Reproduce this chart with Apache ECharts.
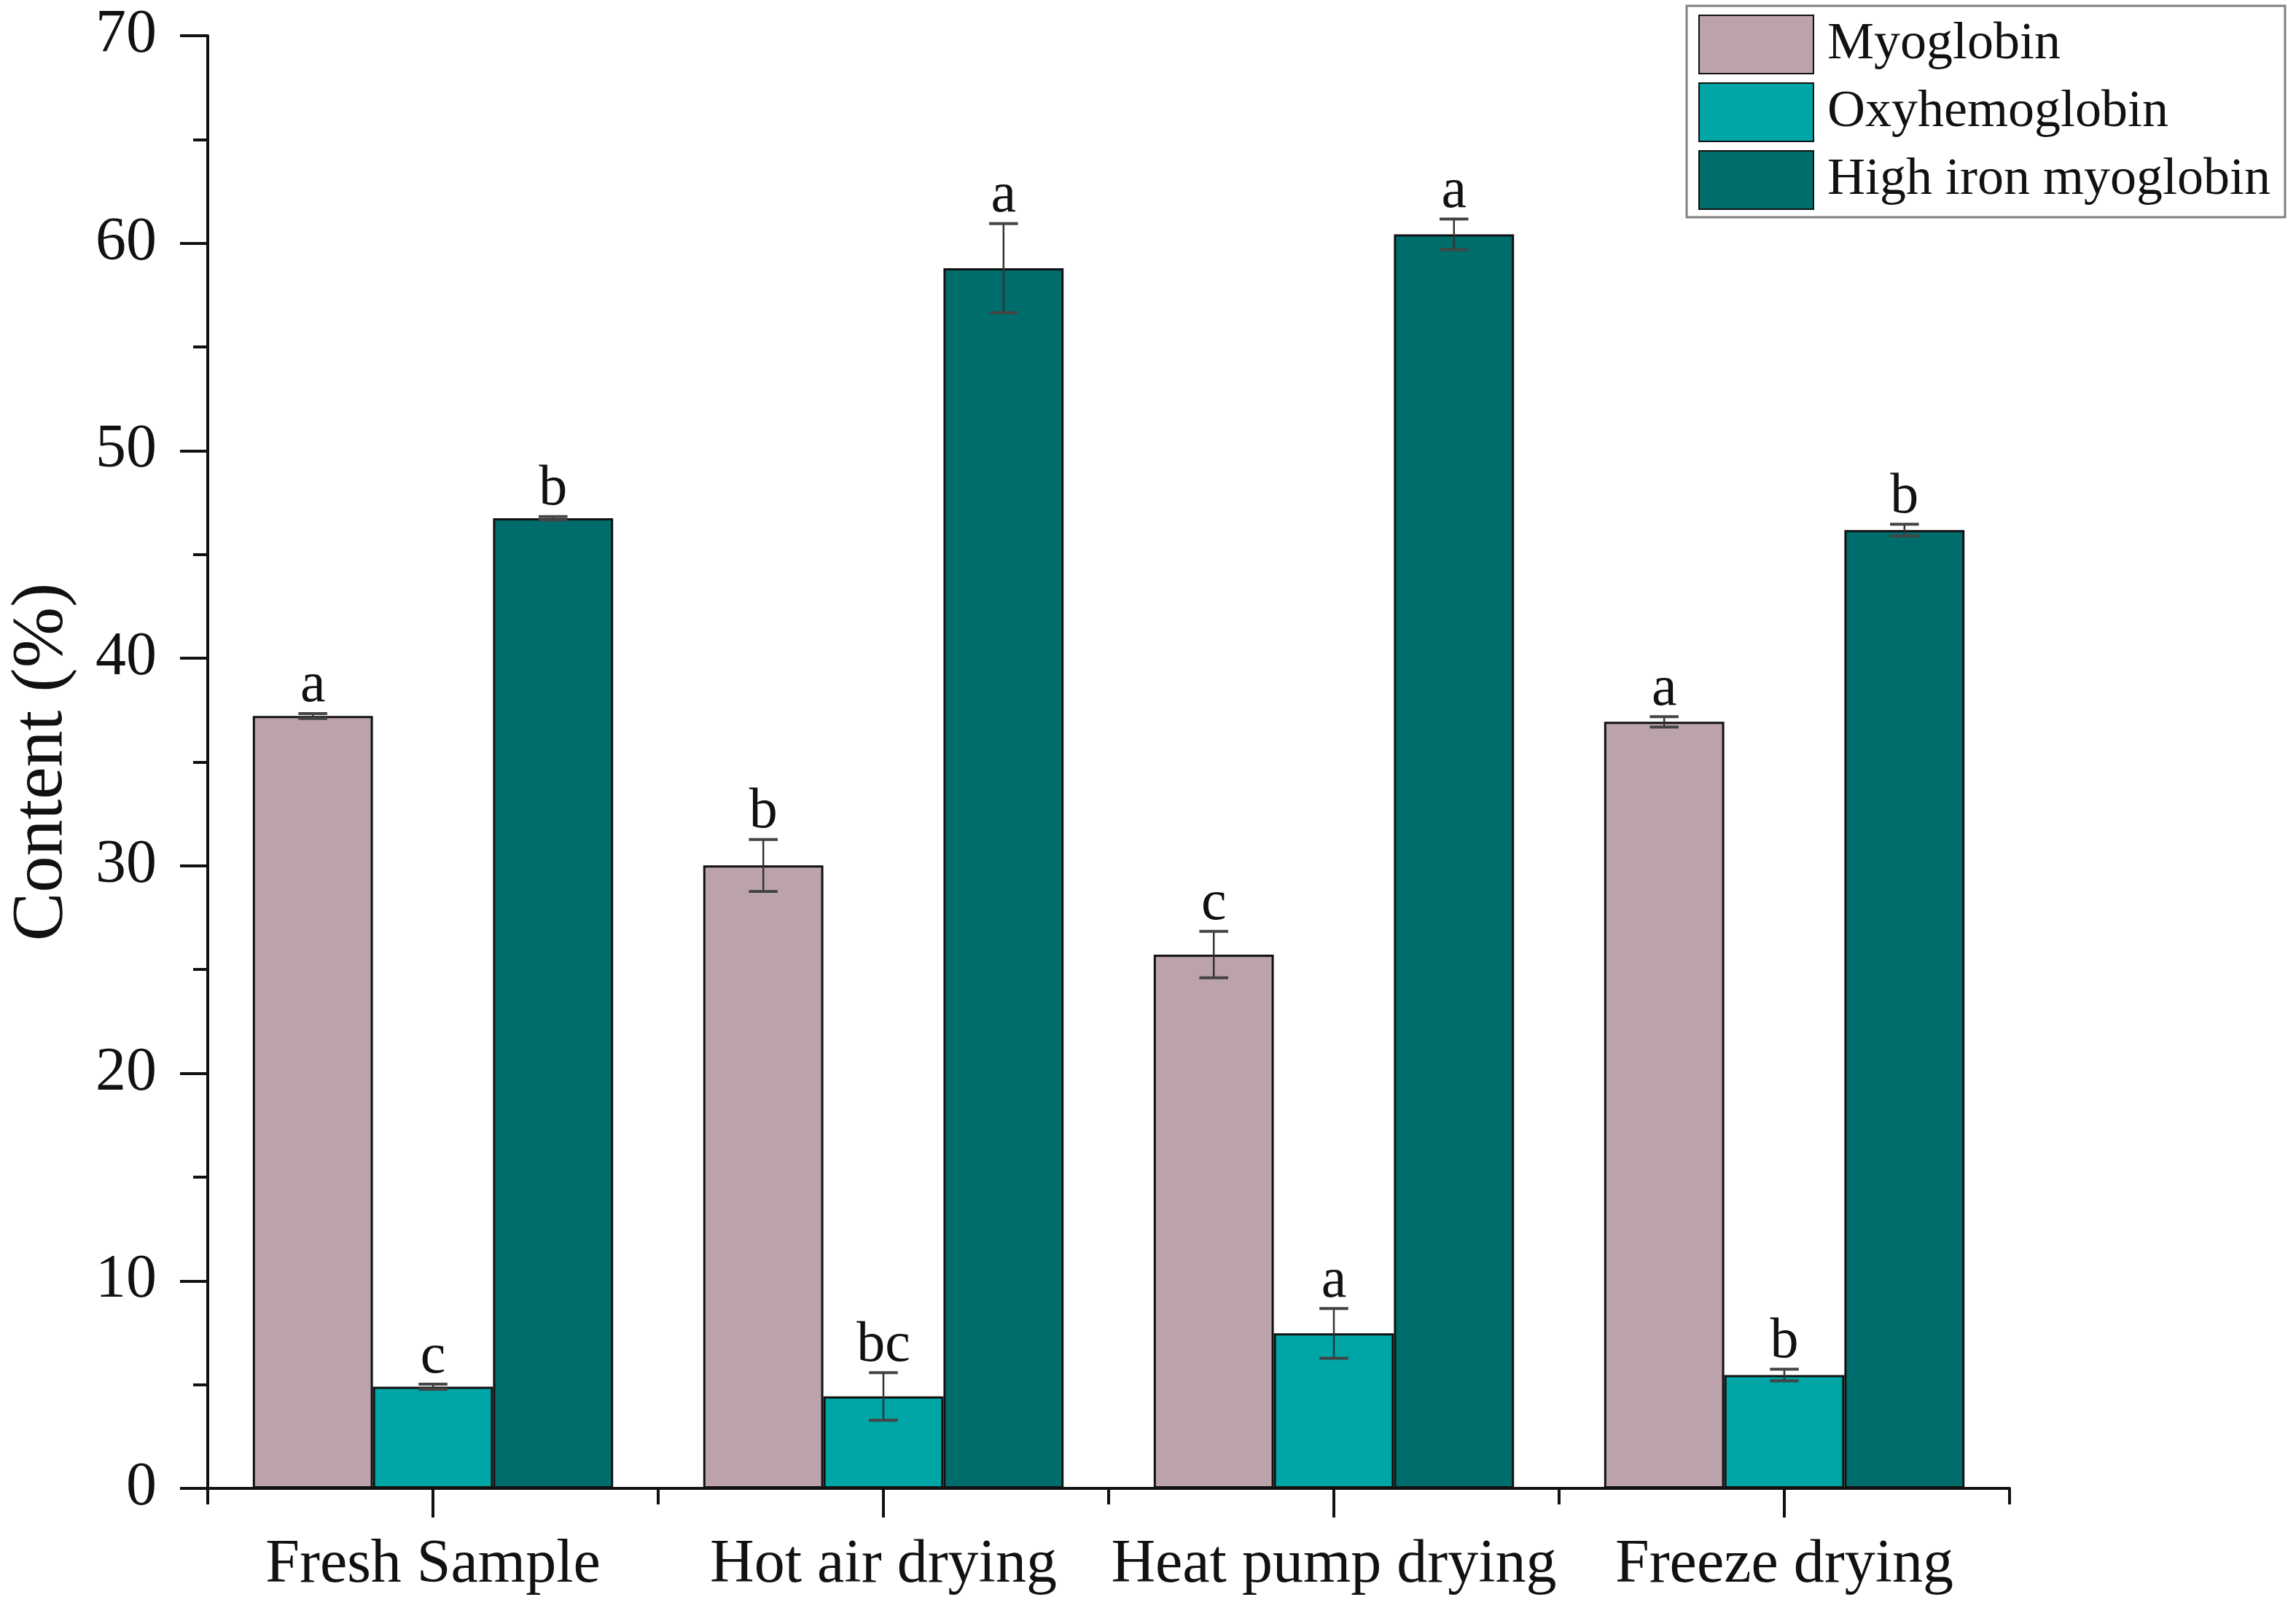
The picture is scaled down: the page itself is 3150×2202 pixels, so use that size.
<!DOCTYPE html>
<html>
<head>
<meta charset="utf-8">
<script src="https://cdn.jsdelivr.net/npm/echarts@6/dist/echarts.min.js"></script>
<style>
html,body{margin:0;padding:0;background:#fff;}
#c{width:3150px;height:2202px;}
</style>
</head>
<body>
<div id="c"></div>
<script>
const categories = ['Fresh Sample', 'Hot air drying', 'Heat pump drying', 'Freeze drying'];
const seriesNames = ['Myoglobin', 'Oxyhemoglobin', 'High iron myoglobin'];
const myoglobin = [37.22, 30.02, 25.72, 36.94];
const oxyhemoglobin = [4.9, 4.43, 7.47, 5.46];
const highIron = [46.75, 58.8, 60.43, 46.18];
const myoglobinErr = [0.12, 1.25, 1.12, 0.25];
const oxyhemoglobinErr = [0.12, 1.15, 1.2, 0.28];
const highIronErr = [0.08, 2.15, 0.74, 0.28];
const myoglobinLetters = ['a', 'b', 'c', 'a'];
const oxyhemoglobinLetters = ['c', 'bc', 'a', 'b'];
const highIronLetters = ['b', 'a', 'a', 'b'];
const yTicks = [0, 10, 20, 30, 40, 50, 60, 70];

const colors = ['#BCA2AB', '#00A5A5', '#006D6D'];
const FONT = "'Liberation Serif', 'Times New Roman', serif";

const values = [myoglobin, oxyhemoglobin, highIron];
const errs = [myoglobinErr, oxyhemoglobinErr, highIronErr];
const letters = [myoglobinLetters, oxyhemoglobinLetters, highIronLetters];

const errData = [];
for (let s = 0; s < 3; s++) {
  for (let i = 0; i < categories.length; i++) {
    errData.push([i, s, values[s][i], errs[s][i], letters[s][i]]);
  }
}

const chart = echarts.init(document.getElementById('c'), null, {renderer: 'canvas'});

const barSeries = seriesNames.map((n, s) => ({
  name: n,
  type: 'bar',
  data: values[s],
  barGap: '0%',
  barCategoryGap: '20%',
  itemStyle: {color: colors[s], borderColor: '#111', borderWidth: 3},
  emphasis: {disabled: true}
}));

const errSeries = {
  type: 'custom',
  data: errData,
  z: 5,
  silent: true,
  encode: {x: 0, y: 2},
  renderItem: function (params, api) {
    const ci = api.value(0);
    const s = api.value(1);
    const v = api.value(2);
    const e = api.value(3);
    const letter = errData[params.dataIndex][4];
    const catW = api.size([1, 0])[0];
    const bw = catW * 0.8 / 3;
    const cx = api.coord([ci, 0])[0] + (s - 1) * bw;
    const yTop = api.coord([ci, v + e])[1];
    const yBot = api.coord([ci, v - e])[1];
    const cap = bw * 0.12;
    const st = {stroke: '#333', lineWidth: 2.5};
    return {
      type: 'group',
      children: [
        {type: 'line', shape: {x1: cx, y1: yTop, x2: cx, y2: yBot}, style: st},
        {type: 'line', shape: {x1: cx - cap, y1: yTop, x2: cx + cap, y2: yTop}, style: {stroke: '#444', lineWidth: 4}},
        {type: 'line', shape: {x1: cx - cap, y1: yBot, x2: cx + cap, y2: yBot}, style: {stroke: '#444', lineWidth: 4}},
        {type: 'text', x: cx, y: yTop + 2, style: {text: letter, fill: '#111', font: '78px ' + FONT, textAlign: 'center', textVerticalAlign: 'bottom'}}
      ]
    };
  }
};

chart.setOption({
  animation: false,
  backgroundColor: '#fff',
  textStyle: {fontFamily: FONT},
  grid: {left: 277, right: 393, top: 49, bottom: 160, containLabel: false},
  legend: {
    data: seriesNames,
    orient: 'vertical',
    left: 2314,
    top: 8,
    padding: [12, 20, 10, 16],
    itemWidth: 157,
    itemHeight: 80,
    itemGap: 11,
    icon: 'rect',
    borderColor: '#808080',
    borderWidth: 3,
    textStyle: {fontFamily: FONT, fontSize: 72, color: '#111', padding: [10, 0, 0, 14]}
  },
  xAxis: [
    {
      type: 'category',
      data: categories,
      position: 'bottom',
      axisLine: {show: true, lineStyle: {color: '#111', width: 4}},
      axisTick: {show: true, alignWithLabel: true, length: 40, lineStyle: {color: '#111', width: 4}},
      axisLabel: {fontFamily: FONT, fontSize: 84, color: '#111', margin: 64, interval: 0, hideOverlap: false},
      splitLine: {show: false}
    },
    {
      type: 'category',
      data: categories,
      position: 'bottom',
      axisLine: {show: false},
      axisTick: {show: true, length: 22, lineStyle: {color: '#111', width: 4}},
      axisLabel: {show: false},
      splitLine: {show: false}
    }
  ],
  yAxis: {
    type: 'value',
    min: yTicks[0],
    max: yTicks[yTicks.length - 1],
    interval: 10,
    name: 'Content (%)',
    nameLocation: 'middle',
    nameGap: 177,
    nameTextStyle: {fontFamily: FONT, fontSize: 100, color: '#111'},
    axisLine: {show: true, lineStyle: {color: '#111', width: 4}},
    axisTick: {show: true, length: 38, lineStyle: {color: '#111', width: 4}},
    minorTick: {show: true, splitNumber: 2, length: 20, lineStyle: {color: '#111', width: 4}},
    axisLabel: {fontFamily: FONT, fontSize: 84, color: '#111', margin: 70},
    splitLine: {show: false},
    minorSplitLine: {show: false}
  },
  series: [...barSeries, errSeries]
});
</script>
</body>
</html>
